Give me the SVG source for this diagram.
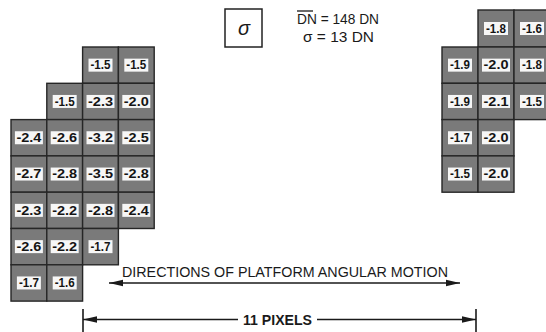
<svg xmlns="http://www.w3.org/2000/svg" width="546" height="332" viewBox="0 0 546 332">
<style>
.cell{fill:#7a7a7a;stroke:#262626;stroke-width:1.4}
.lbl{fill:#f6f6f6}
.t{font-family:"Liberation Sans",Arial,sans-serif;font-size:12px;fill:#141414;text-anchor:middle;font-weight:bold}
.cap{font-family:"Liberation Sans",Arial,sans-serif;fill:#1a1a1a}
.ln{stroke:#1a1a1a;stroke-width:1.6;fill:none}
</style>
<defs>
<marker id="ah" viewBox="0 0 14 8" refX="14" refY="4" markerWidth="14" markerHeight="8" markerUnits="userSpaceOnUse" orient="auto-start-reverse">
<path d="M0,0.8 L14,4 L0,7.2 Z" fill="#1a1a1a"/>
</marker>
</defs>
<rect width="546" height="332" fill="#ffffff"/>

<g id="left-grid">
<g id="L-r0c2" transform="translate(82.6,47)"><rect class="cell" width="35.8" height="36.3"/><rect class="lbl" x="5.9" y="11.65" width="24" height="13"/><text class="t" x="17.9" y="22.4" textLength="20" lengthAdjust="spacingAndGlyphs">-1.5</text></g>
<g id="L-r0c3" transform="translate(118.4,47)"><rect class="cell" width="35.8" height="36.3"/><rect class="lbl" x="5.9" y="11.65" width="24" height="13"/><text class="t" x="17.9" y="22.4" textLength="20" lengthAdjust="spacingAndGlyphs">-1.5</text></g>

<g id="L-r1c1" transform="translate(46.8,83.3)"><rect class="cell" width="35.8" height="36.3"/><rect class="lbl" x="5.9" y="11.65" width="24" height="13"/><text class="t" x="17.9" y="22.4" textLength="20" lengthAdjust="spacingAndGlyphs">-1.5</text></g>
<g id="L-r1c2" transform="translate(82.6,83.3)"><rect class="cell" width="35.8" height="36.3"/><rect class="lbl" x="3.9" y="11.65" width="28" height="13"/><text class="t" x="17.9" y="22.4" textLength="25" lengthAdjust="spacingAndGlyphs">-2.3</text></g>
<g id="L-r1c3" transform="translate(118.4,83.3)"><rect class="cell" width="35.8" height="36.3"/><rect class="lbl" x="3.9" y="11.65" width="28" height="13"/><text class="t" x="17.9" y="22.4" textLength="25" lengthAdjust="spacingAndGlyphs">-2.0</text></g>

<g id="L-r2c0" transform="translate(11,119.6)"><rect class="cell" width="35.8" height="36.3"/><rect class="lbl" x="3.9" y="11.65" width="28" height="13"/><text class="t" x="17.9" y="22.4" textLength="25" lengthAdjust="spacingAndGlyphs">-2.4</text></g>
<g id="L-r2c1" transform="translate(46.8,119.6)"><rect class="cell" width="35.8" height="36.3"/><rect class="lbl" x="3.9" y="11.65" width="28" height="13"/><text class="t" x="17.9" y="22.4" textLength="25" lengthAdjust="spacingAndGlyphs">-2.6</text></g>
<g id="L-r2c2" transform="translate(82.6,119.6)"><rect class="cell" width="35.8" height="36.3"/><rect class="lbl" x="3.9" y="11.65" width="28" height="13"/><text class="t" x="17.9" y="22.4" textLength="25" lengthAdjust="spacingAndGlyphs">-3.2</text></g>
<g id="L-r2c3" transform="translate(118.4,119.6)"><rect class="cell" width="35.8" height="36.3"/><rect class="lbl" x="3.9" y="11.65" width="28" height="13"/><text class="t" x="17.9" y="22.4" textLength="25" lengthAdjust="spacingAndGlyphs">-2.5</text></g>

<g id="L-r3c0" transform="translate(11,155.9)"><rect class="cell" width="35.8" height="36.3"/><rect class="lbl" x="3.9" y="11.65" width="28" height="13"/><text class="t" x="17.9" y="22.4" textLength="25" lengthAdjust="spacingAndGlyphs">-2.7</text></g>
<g id="L-r3c1" transform="translate(46.8,155.9)"><rect class="cell" width="35.8" height="36.3"/><rect class="lbl" x="3.9" y="11.65" width="28" height="13"/><text class="t" x="17.9" y="22.4" textLength="25" lengthAdjust="spacingAndGlyphs">-2.8</text></g>
<g id="L-r3c2" transform="translate(82.6,155.9)"><rect class="cell" width="35.8" height="36.3"/><rect class="lbl" x="3.9" y="11.65" width="28" height="13"/><text class="t" x="17.9" y="22.4" textLength="25" lengthAdjust="spacingAndGlyphs">-3.5</text></g>
<g id="L-r3c3" transform="translate(118.4,155.9)"><rect class="cell" width="35.8" height="36.3"/><rect class="lbl" x="3.9" y="11.65" width="28" height="13"/><text class="t" x="17.9" y="22.4" textLength="25" lengthAdjust="spacingAndGlyphs">-2.8</text></g>

<g id="L-r4c0" transform="translate(11,192.2)"><rect class="cell" width="35.8" height="36.3"/><rect class="lbl" x="3.9" y="11.65" width="28" height="13"/><text class="t" x="17.9" y="22.4" textLength="25" lengthAdjust="spacingAndGlyphs">-2.3</text></g>
<g id="L-r4c1" transform="translate(46.8,192.2)"><rect class="cell" width="35.8" height="36.3"/><rect class="lbl" x="3.9" y="11.65" width="28" height="13"/><text class="t" x="17.9" y="22.4" textLength="25" lengthAdjust="spacingAndGlyphs">-2.2</text></g>
<g id="L-r4c2" transform="translate(82.6,192.2)"><rect class="cell" width="35.8" height="36.3"/><rect class="lbl" x="3.9" y="11.65" width="28" height="13"/><text class="t" x="17.9" y="22.4" textLength="25" lengthAdjust="spacingAndGlyphs">-2.8</text></g>
<g id="L-r4c3" transform="translate(118.4,192.2)"><rect class="cell" width="35.8" height="36.3"/><rect class="lbl" x="3.9" y="11.65" width="28" height="13"/><text class="t" x="17.9" y="22.4" textLength="25" lengthAdjust="spacingAndGlyphs">-2.4</text></g>

<g id="L-r5c0" transform="translate(11,228.5)"><rect class="cell" width="35.8" height="36.3"/><rect class="lbl" x="3.9" y="11.65" width="28" height="13"/><text class="t" x="17.9" y="22.4" textLength="25" lengthAdjust="spacingAndGlyphs">-2.6</text></g>
<g id="L-r5c1" transform="translate(46.8,228.5)"><rect class="cell" width="35.8" height="36.3"/><rect class="lbl" x="3.9" y="11.65" width="28" height="13"/><text class="t" x="17.9" y="22.4" textLength="25" lengthAdjust="spacingAndGlyphs">-2.2</text></g>
<g id="L-r5c2" transform="translate(82.6,228.5)"><rect class="cell" width="35.8" height="36.3"/><rect class="lbl" x="5.9" y="11.65" width="24" height="13"/><text class="t" x="17.9" y="22.4" textLength="20" lengthAdjust="spacingAndGlyphs">-1.7</text></g>

<g id="L-r6c0" transform="translate(11,264.8)"><rect class="cell" width="35.8" height="36.3"/><rect class="lbl" x="5.9" y="11.65" width="24" height="13"/><text class="t" x="17.9" y="22.4" textLength="20" lengthAdjust="spacingAndGlyphs">-1.7</text></g>
<g id="L-r6c1" transform="translate(46.8,264.8)"><rect class="cell" width="35.8" height="36.3"/><rect class="lbl" x="5.9" y="11.65" width="24" height="13"/><text class="t" x="17.9" y="22.4" textLength="20" lengthAdjust="spacingAndGlyphs">-1.6</text></g>
</g>

<g id="right-grid">
<g id="R-r0c1" transform="translate(478,10)"><rect class="cell" width="36" height="37"/><rect class="lbl" x="6" y="12" width="24" height="13"/><text class="t" x="18" y="22.8" textLength="20" lengthAdjust="spacingAndGlyphs">-1.8</text></g>
<g id="R-r0c2" transform="translate(514,10)"><rect class="cell" width="36" height="37"/><rect class="lbl" x="6" y="12" width="24" height="13"/><text class="t" x="18" y="22.8" textLength="20" lengthAdjust="spacingAndGlyphs">-1.6</text></g>

<g id="R-r1c0" transform="translate(442,47)"><rect class="cell" width="36" height="36.3"/><rect class="lbl" x="6" y="11.65" width="24" height="13"/><text class="t" x="18" y="22.4" textLength="20" lengthAdjust="spacingAndGlyphs">-1.9</text></g>
<g id="R-r1c1" transform="translate(478,47)"><rect class="cell" width="36" height="36.3"/><rect class="lbl" x="4" y="11.65" width="28" height="13"/><text class="t" x="18" y="22.4" textLength="25" lengthAdjust="spacingAndGlyphs">-2.0</text></g>
<g id="R-r1c2" transform="translate(514,47)"><rect class="cell" width="36" height="36.3"/><rect class="lbl" x="6" y="11.65" width="24" height="13"/><text class="t" x="18" y="22.4" textLength="20" lengthAdjust="spacingAndGlyphs">-1.8</text></g>

<g id="R-r2c0" transform="translate(442,83.3)"><rect class="cell" width="36" height="36.3"/><rect class="lbl" x="6" y="11.65" width="24" height="13"/><text class="t" x="18" y="22.4" textLength="20" lengthAdjust="spacingAndGlyphs">-1.9</text></g>
<g id="R-r2c1" transform="translate(478,83.3)"><rect class="cell" width="36" height="36.3"/><rect class="lbl" x="4" y="11.65" width="28" height="13"/><text class="t" x="18" y="22.4" textLength="25" lengthAdjust="spacingAndGlyphs">-2.1</text></g>
<g id="R-r2c2" transform="translate(514,83.3)"><rect class="cell" width="36" height="36.3"/><rect class="lbl" x="6" y="11.65" width="24" height="13"/><text class="t" x="18" y="22.4" textLength="20" lengthAdjust="spacingAndGlyphs">-1.5</text></g>

<g id="R-r3c0" transform="translate(442,119.6)"><rect class="cell" width="36" height="36.3"/><rect class="lbl" x="6" y="11.65" width="24" height="13"/><text class="t" x="18" y="22.4" textLength="20" lengthAdjust="spacingAndGlyphs">-1.7</text></g>
<g id="R-r3c1" transform="translate(478,119.6)"><rect class="cell" width="36" height="36.3"/><rect class="lbl" x="4" y="11.65" width="28" height="13"/><text class="t" x="18" y="22.4" textLength="25" lengthAdjust="spacingAndGlyphs">-2.0</text></g>

<g id="R-r4c0" transform="translate(442,155.9)"><rect class="cell" width="36" height="36.3"/><rect class="lbl" x="6" y="11.65" width="24" height="13"/><text class="t" x="18" y="22.4" textLength="20" lengthAdjust="spacingAndGlyphs">-1.5</text></g>
<g id="R-r4c1" transform="translate(478,155.9)"><rect class="cell" width="36" height="36.3"/><rect class="lbl" x="4" y="11.65" width="28" height="13"/><text class="t" x="18" y="22.4" textLength="25" lengthAdjust="spacingAndGlyphs">-2.0</text></g>
</g>

<g id="legend">
<rect x="225" y="9" width="37" height="38" fill="#ffffff" stroke="#222222" stroke-width="1.5"/>
<text class="cap" x="244" y="35" font-size="20" font-style="italic" text-anchor="middle">σ</text>
<line x1="297" y1="11" x2="313" y2="11" stroke="#1a1a1a" stroke-width="1.3"/>
<text class="cap" x="297" y="24" font-size="14" textLength="82" lengthAdjust="spacingAndGlyphs">DN = 148 DN</text>
<text class="cap" x="303" y="42" font-size="14" textLength="71" lengthAdjust="spacingAndGlyphs">σ = 13 DN</text>
</g>

<g id="connectors">
<line class="ln" x1="109" y1="283" x2="460" y2="283" marker-start="url(#ah)" marker-end="url(#ah)"/>
<line class="ln" x1="83" y1="319.5" x2="238" y2="319.5" marker-start="url(#ah)"/>
<line class="ln" x1="317" y1="319.5" x2="476" y2="319.5" marker-end="url(#ah)"/>
<line class="ln" x1="83" y1="309" x2="83" y2="332" stroke-width="2"/>
<line class="ln" x1="476" y1="309" x2="476" y2="332" stroke-width="2"/>
</g>

<g id="labels">
<text class="cap" x="122" y="277" font-size="14" textLength="326" lengthAdjust="spacingAndGlyphs">DIRECTIONS OF PLATFORM ANGULAR MOTION</text>
<text class="cap" x="243" y="325" font-size="14" font-weight="bold" textLength="69" lengthAdjust="spacingAndGlyphs">11 PIXELS</text>
</g>
</svg>
